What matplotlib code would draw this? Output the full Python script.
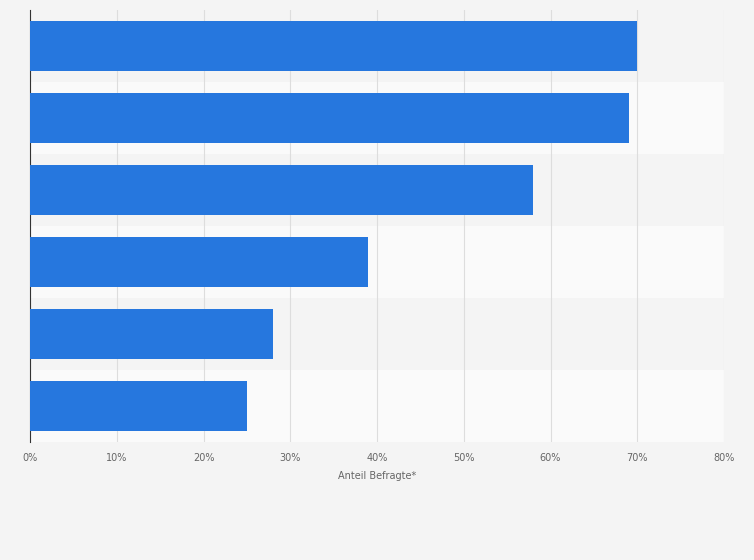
import matplotlib
matplotlib.use("Agg")
import matplotlib.pyplot as plt

# values, top to bottom (category labels not shown in the reference)
values = [70, 69, 58, 39, 28, 25]
xticks = [0, 10, 20, 30, 40, 50, 60, 70, 80]
xlabel = "Anteil Befragte*"

fig = plt.figure(figsize=(7.54, 5.6), dpi=100, facecolor="#f4f4f4")
ax = fig.add_axes([0.0398, 0.2107, 0.9205, 0.7714])
ax.set_facecolor("#f4f4f4")

n = len(values)
pos = list(range(n))
for i in pos:
    ax.axhspan(i - 0.5, i + 0.5, color="#f4f4f4" if i % 2 == 0 else "#fafafa", zorder=0, lw=0)

ax.barh(pos, values, height=0.69, color="#2677de", zorder=3)
ax.set_ylim(n - 0.5, -0.5)
ax.set_xlim(0, 80)
ax.set_xticks(xticks)
ax.set_xticklabels([f"{t}%" for t in xticks], fontsize=7, color="#666666")
ax.set_yticks([])
ax.grid(axis="x", color="#dddddd", lw=0.8, zorder=1)
ax.tick_params(axis="x", length=0, pad=8)
for s in ["top", "right", "bottom"]:
    ax.spines[s].set_visible(False)
ax.spines["left"].set_color("#333333")
ax.set_xlabel(xlabel, fontsize=7, color="#666666", labelpad=6)

fig.savefig("out.png", dpi=100, facecolor=fig.get_facecolor())
